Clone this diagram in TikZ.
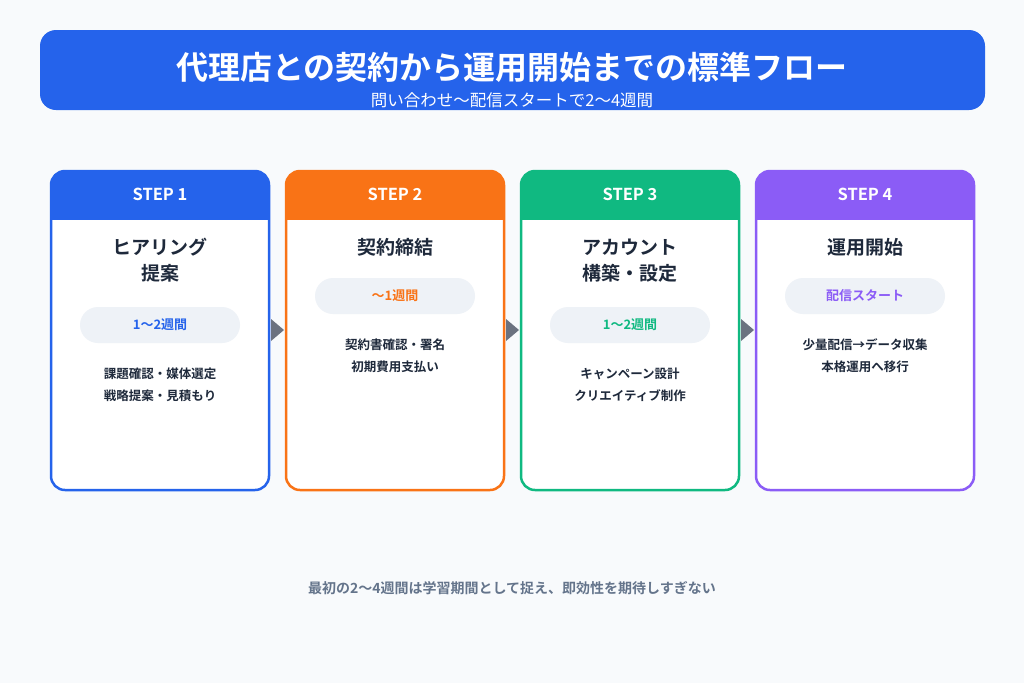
\documentclass[tikz,border=0pt]{standalone}
\usepackage{fontspec}
\setmainfont{Noto Sans CJK JP}
\newfontfamily\jpbold{Noto Sans CJK JP Bold}
\usetikzlibrary{positioning}
\definecolor{bgpage}{HTML}{F8FAFC}
\definecolor{cblue}{HTML}{2563EB}
\definecolor{corange}{HTML}{F97316}
\definecolor{cgreen}{HTML}{10B981}
\definecolor{cpurple}{HTML}{8B5CF6}
\definecolor{inkdark}{HTML}{1E293B}
\definecolor{inkgray}{HTML}{64748B}
\definecolor{pillbg}{HTML}{EEF2F7}
\definecolor{arrowgray}{HTML}{6B7280}
\tikzset{
  cardtitle/.style={font=\jpbold\fontsize{19}{26}\selectfont, text=inkdark, align=center},
  pilltext/.style={font=\jpbold\fontsize{13}{16}\selectfont},
  desctext/.style={font=\jpbold\fontsize{12.5}{22}\selectfont, text=inkdark, align=center},
  headtext/.style={font=\jpbold\fontsize{16.5}{18}\selectfont, text=white},
}
% one card: #1 left edge, #2 colour, #3 step number, #4 title, #5 pill y, #6 pill text, #7 description
\newcommand{\stepcard}[7]{
  \begin{scope}
    \clip[rounded corners=14] (#1,171) rectangle ++(218,319);
    \fill[white] (#1,171) rectangle ++(218,319);
    \fill[#2] (#1,171) rectangle ++(218,49);
  \end{scope}
  \draw[#2, line width=2.5, rounded corners=14] (#1,171) rectangle ++(218,319);
  \node[headtext] (head#3) at (#1+109,194) {STEP #3};
  \node[cardtitle, anchor=north] (title#3) at (#1+109,235) {#4};
  \fill[pillbg, rounded corners=18] (#1+29,#5-18) rectangle ++(160,36);
  \node[pilltext, text=#2] (pill#3) at (#1+109,#5) {#6};
  \node[desctext, anchor=north] (desc#3) at (#1+109,#5+39) {#7};
}
\begin{document}
\begin{tikzpicture}[x=1pt, y=-1pt]
  \fill[bgpage] (0,0) rectangle (1024,683);
  \useasboundingbox (0,0) rectangle (1024,683);

  % banner
  \fill[cblue, rounded corners=16] (40,30) rectangle (985,110);
  \node[font=\jpbold\fontsize{32}{36}\selectfont, text=white] (title) at (512,67) {代理店との契約から運用開始までの標準フロー};
  \node[font=\fontsize{16.5}{18}\selectfont, text=white] (subtitle) at (512,100) {問い合わせ〜配信スタートで2〜4週間};

  % cards
  \stepcard{51}{cblue}{1}{ヒアリング\\提案}{325}{1〜2週間}{課題確認・媒体選定\\戦略提案・見積もり}
  \stepcard{286}{corange}{2}{契約締結}{296}{〜1週間}{契約書確認・署名\\初期費用支払い}
  \stepcard{521}{cgreen}{3}{アカウント\\構築・設定}{325}{1〜2週間}{キャンペーン設計\\クリエイティブ制作}
  \stepcard{756}{cpurple}{4}{運用開始}{296}{配信スタート}{少量配信→データ収集\\本格運用へ移行}

  % arrows between cards
  \foreach \ax in {271,506,741}
    \fill[arrowgray] (\ax,319) -- (\ax+13,330) -- (\ax,341) -- cycle;

  \node[font=\jpbold\fontsize{14}{16}\selectfont, text=inkgray] (note) at (512,588) {最初の2〜4週間は学習期間として捉え、即効性を期待しすぎない};
\end{tikzpicture}
\end{document}
